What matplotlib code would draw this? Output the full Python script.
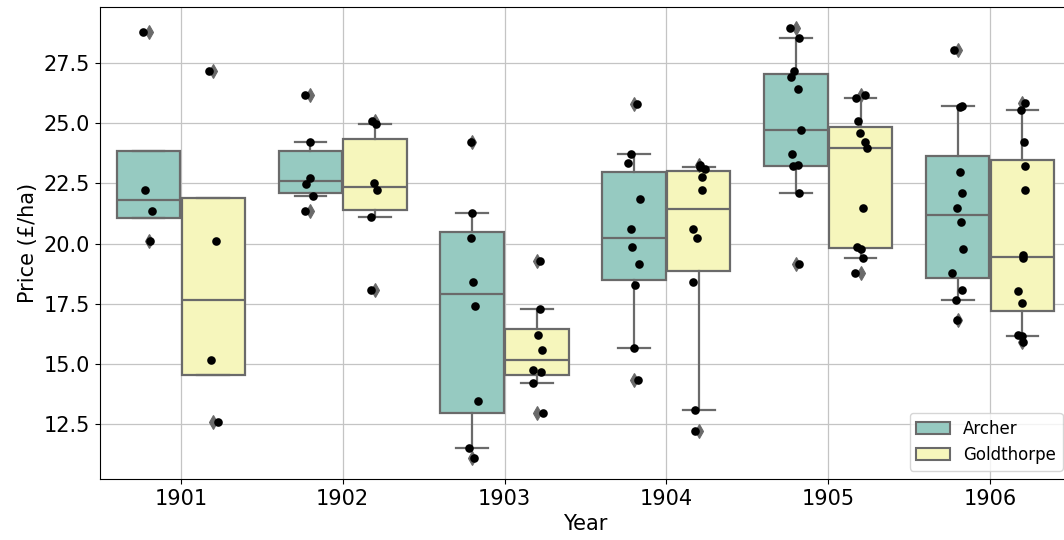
import numpy as np
import matplotlib
matplotlib.use("Agg")
import matplotlib.pyplot as plt
from matplotlib.patches import Patch

# Sale prices per hectare by year and estate
years = ["1901", "1902", "1903", "1904", "1905", "1906"]
estates = ["Archer", "Goldthorpe"]

archer = [
    [28.77, 22.23, 21.37, 20.13],
    [26.19, 24.21, 22.73, 22.48, 22.00, 21.37],
    [24.21, 21.26, 20.25, 18.40, 17.42, 13.48, 11.51, 11.12],
    [25.82, 23.71, 23.34, 21.86, 20.63, 19.88, 19.15, 18.29, 15.68, 14.32],
    [28.95, 28.56, 27.18, 26.93, 26.42, 24.72, 23.73, 23.25, 23.21, 22.12, 19.15],
    [28.04, 25.72, 25.66, 22.96, 22.11, 21.49, 20.89, 19.77, 18.77, 18.06, 17.67, 16.81],
]
goldthorpe = [
    [27.18, 20.13, 15.19, 12.60],
    [25.10, 24.97, 22.51, 22.23, 21.12, 18.06],
    [19.29, 17.30, 16.20, 15.57, 14.74, 14.68, 14.21, 12.97],
    [23.28, 23.18, 23.12, 22.76, 22.23, 20.63, 20.25, 18.40, 13.11, 12.22],
    [26.17, 26.05, 25.08, 24.58, 24.21, 23.97, 21.49, 19.88, 19.79, 19.40, 18.77],
    [25.85, 25.55, 24.21, 23.21, 22.23, 19.51, 19.40, 18.02, 17.53, 16.20, 16.17, 15.91],
]

colors = ["#96cac1", "#f6f6bc"]
gray = "#6a6a6a"

fig = plt.figure(figsize=(10.64, 5.40), dpi=100)
ax = fig.add_axes([0.0940, 0.1130, 0.9125, 0.8746])
ax.set_axisbelow(True)
ax.grid(True, color="#c4c4c4", linewidth=0.9)

rng = np.random.default_rng(3)
base = np.arange(len(years))
offsets = [-0.2, 0.2]
for series, off, col in zip([archer, goldthorpe], offsets, colors):
    pos = base + off
    ax.boxplot(
        series, positions=pos, widths=0.392, whis=(5, 95),
        patch_artist=True, manage_ticks=False,
        boxprops=dict(facecolor=col, edgecolor=gray, linewidth=1.6),
        medianprops=dict(color=gray, linewidth=1.6),
        whiskerprops=dict(color=gray, linewidth=1.6),
        capprops=dict(color=gray, linewidth=1.6),
        flierprops=dict(marker="d", markerfacecolor=gray, markeredgecolor=gray,
                        markersize=7, markeredgewidth=0.8),
        zorder=2,
    )
    for p, vals in zip(pos, series):
        x = p + rng.uniform(-0.04, 0.04, len(vals))
        ax.plot(x, vals, "o", color="black", markersize=6.2, markeredgewidth=0, zorder=3)

ax.set_xlim(-0.5, len(years) - 0.5)
ax.set_xticks(base)
ax.set_xticklabels(years)
ax.tick_params(labelsize=15)
ax.set_xlabel("Year", fontsize=15)
ax.set_ylabel("Price (£/ha)", fontsize=15)

handles = [Patch(facecolor=c, edgecolor=gray, linewidth=1.5, label=l)
           for c, l in zip(colors, estates)]
ax.legend(handles=handles, loc="lower right", fontsize=12)

fig.savefig("out.png", dpi=100)
